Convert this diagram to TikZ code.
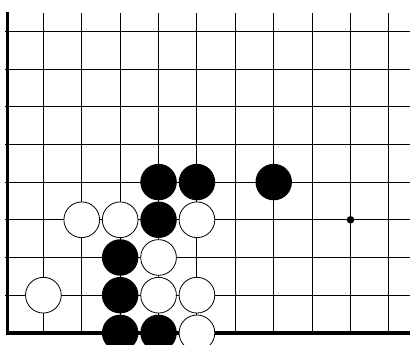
\documentclass[tikz,border=0pt]{standalone}
\usepackage{tikz}

\begin{document}
\begin{tikzpicture}[x=1cm, y=0.982cm,
  gridline/.style={line width=0.7pt, color=black},
  edgeline/.style={line width=2.6pt, color=black},
  blackstone/.style={circle, fill=black, inner sep=0pt, minimum size=0.95cm},
  whitestone/.style={circle, draw=black, line width=0.6pt, fill=white, inner sep=0pt, minimum size=0.93cm}]
\useasboundingbox (-0.13,-0.32) rectangle (10.55,8.83);
\clip (-0.13,-0.32) rectangle (10.55,8.83);
% board lines
\foreach \r in {1,...,8}
  \draw[gridline] (0,\r) -- (10.55,\r);
\foreach \c in {1,...,10}
  \draw[gridline] (\c,0) -- (\c,8.49);
\draw[edgeline] (0.06,8.5) -- (0.06,0) -- (10.55,0);
% star point
\fill (9,3) circle (0.1);
% black stones
\foreach \c/\r in {4/4,5/4,7/4,4/3,3/2,3/1,3/0,4/0}
  \node[blackstone] (b\c\r) at (\c,\r) {};
% white stones
\foreach \c/\r in {2/3,3/3,5/3,4/2,1/1,4/1,5/1,5/0}
  \node[whitestone] (w\c\r) at (\c,\r) {};
\end{tikzpicture}
\end{document}
